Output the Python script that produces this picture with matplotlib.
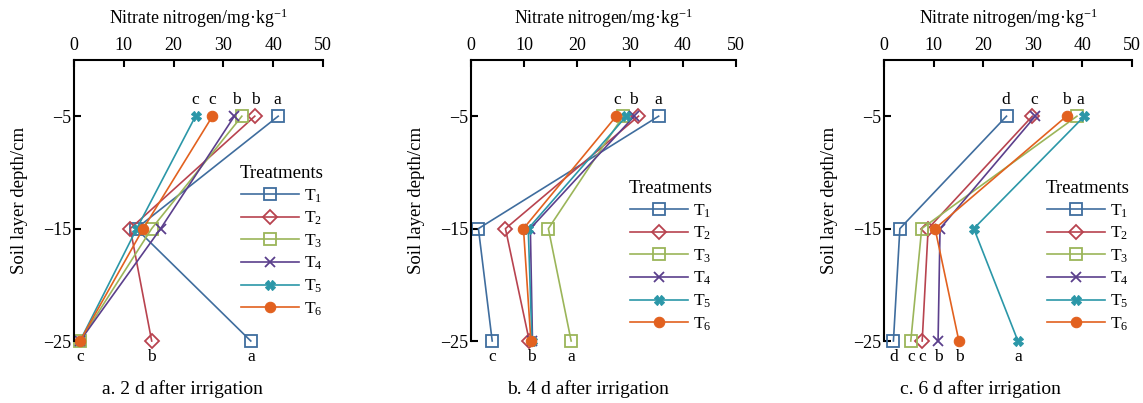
import numpy as np
import matplotlib
matplotlib.use("Agg")
import matplotlib.pyplot as plt

plt.rcParams["font.family"] = ["Liberation Serif", "DejaVu Serif"]
plt.rcParams["mathtext.fontset"] = "custom"
plt.rcParams["mathtext.rm"] = "Liberation Serif"
plt.rcParams["mathtext.it"] = "Liberation Serif:italic"

# Depths (cm)
depths = [-5, -15, -25]
treatments = ["T$_1$", "T$_2$", "T$_3$", "T$_4$", "T$_5$", "T$_6$"]

# Nitrate nitrogen (mg/kg) per treatment, at -5, -15, -25 cm
day2 = {
    "T1": [41.0, 12.5, 35.5],
    "T2": [36.3, 11.3, 15.6],
    "T3": [33.7, 15.6, 1.2],
    "T4": [32.2, 17.4, 1.2],
    "T5": [24.4, 12.6, 1.2],
    "T6": [27.8, 13.9, 1.2],
}
day4 = {
    "T1": [35.4, 1.4, 4.0],
    "T2": [31.6, 6.5, 11.0],
    "T3": [28.7, 14.6, 18.9],
    "T4": [30.8, 11.2, 11.6],
    "T5": [29.3, 10.8, 11.5],
    "T6": [27.4, 9.9, 11.3],
}
day6 = {
    "T1": [24.7, 3.2, 1.9],
    "T2": [29.9, 8.9, 7.7],
    "T3": [38.9, 7.6, 5.4],
    "T4": [30.5, 11.3, 10.9],
    "T5": [40.4, 18.1, 27.0],
    "T6": [36.8, 10.3, 15.1],
}

# significance letters: (x position, letter)
letters_top_a = [(24.4, "c"), (27.8, "c"), (32.6, "b"), (36.5, "b"), (40.8, "a")]
letters_bot_a = [(1.2, "c"), (15.6, "b"), (35.5, "a")]
letters_top_b = [(27.5, "c"), (30.7, "b"), (35.4, "a")]
letters_bot_b = [(4.0, "c"), (11.4, "b"), (18.9, "a")]
letters_top_c = [(24.5, "d"), (30.2, "c"), (36.8, "b"), (39.6, "a")]
letters_bot_c = [(1.9, "d"), (5.4, "c"), (7.7, "c"), (10.9, "b"), (15.1, "b"), (27.0, "a")]

captions = ["a. 2 d after irrigation", "b. 4 d after irrigation", "c. 6 d after irrigation"]

colors = ["#3f6d9e", "#b8434f", "#9bb559", "#5b3f8c", "#2b97a8", "#e2611f"]
markers = ["s", "D", "s", "x", "X", "o"]
filled = [False, False, False, False, True, True]
msizes = [8.5, 7, 8.5, 7, 7, 7.5]

W, H = 1143, 403
fig = plt.figure(figsize=(W / 100, H / 100), dpi=100)

# axes boxes in pixels: left, right
boxes = [(74, 323), (471, 736), (884, 1132)]
top_px, bot_px = 60, 341
legend_pos = [(240, 165), (629, 180), (1046, 180)]
caption_x = [182, 588, 980]

datasets = [day2, day4, day6]
tops = [letters_top_a, letters_top_b, letters_top_c]
bots = [letters_bot_a, letters_bot_b, letters_bot_c]

for i, (data, (l, r)) in enumerate(zip(datasets, boxes)):
    ax = fig.add_axes([l / W, (H - bot_px) / H, (r - l) / W, (bot_px - top_px) / H])
    for k, key in enumerate(["T1", "T2", "T3", "T4", "T5", "T6"]):
        c = colors[k]
        ax.plot(data[key], depths, color=c, lw=1.2, marker=markers[k],
                ms=msizes[k], mfc=c if filled[k] else "none", mec=c,
                mew=1.3 if not filled[k] else 0.8, label=treatments[k], clip_on=False)
    ax.set_xlim(0, 50)
    ax.set_ylim(-25, 0)
    ax.set_xticks([0, 10, 20, 30, 40, 50])
    ax.set_yticks([-5, -15, -25])
    ax.xaxis.tick_top()
    ax.xaxis.set_label_position("top")
    ax.tick_params(direction="in", length=5, width=1.5, labelsize=13, pad=4)
    ax.tick_params(axis="y", pad=2)
    for s in ["right", "bottom"]:
        ax.spines[s].set_visible(False)
    for s in ["left", "top"]:
        ax.spines[s].set_linewidth(1.5)
    ax.set_xlabel("Nitrate nitrogen/mg·kg$^{-1}$", fontsize=12.8, labelpad=10)
    ax.set_ylabel("Soil layer depth/cm", fontsize=13.5, labelpad=11)

    for x, t in tops[i]:
        ax.annotate(t, (x, -5), xytext=(0, 6), textcoords="offset points",
                    ha="center", va="bottom", fontsize=12.5, annotation_clip=False)
    for x, t in bots[i]:
        ax.annotate(t, (x, -25), xytext=(0, -6), textcoords="offset points",
                    ha="center", va="top", fontsize=12.5, annotation_clip=False)

    lx, ly = legend_pos[i]
    leg = ax.legend(title="Treatments", loc="upper left",
                    bbox_to_anchor=(lx / W, (H - ly) / H), bbox_transform=fig.transFigure,
                    frameon=False, fontsize=12.5, title_fontsize=13.5, handlelength=3.3,
                    handletextpad=0.3, labelspacing=0.3, borderpad=0, borderaxespad=0)
    leg.set_clip_on(False)

    fig.text(caption_x[i] / W, 1 - 389 / H, captions[i], ha="center", va="center", fontsize=14)

fig.savefig("out.png", dpi=100)
